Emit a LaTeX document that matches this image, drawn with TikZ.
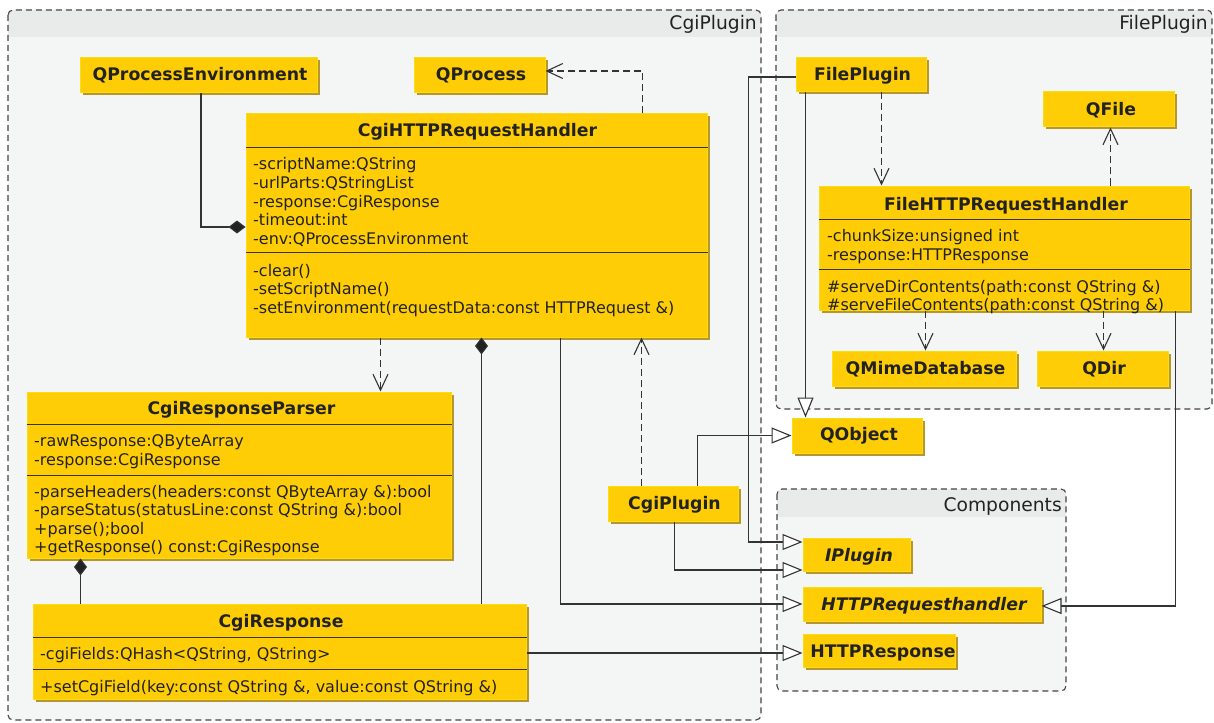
\documentclass[tikz,border=0pt]{standalone}
\usepackage{fontspec}
\setmainfont{DejaVu Sans}
\usetikzlibrary{arrows.meta,shadows}
\definecolor{clsfill}{HTML}{FECD06}
\definecolor{clsborder}{HTML}{F6DE10}
\definecolor{clsshadow}{HTML}{B8952E}
\definecolor{sepc}{HTML}{3A3428}
\definecolor{txt}{HTML}{222222}
\definecolor{pkgbody}{HTML}{F4F6F6}
\definecolor{pkghead}{HTML}{E9EBEB}
\definecolor{pkgline}{HTML}{444444}
\definecolor{linec}{HTML}{333333}
\begin{document}
\begin{tikzpicture}[x=1pt,y=-1pt,
  cls/.style={draw=clsborder, line width=1pt, fill=clsfill, inner sep=0pt,
    drop shadow={shadow xshift=2.5pt, shadow yshift=-2.5pt, fill=clsshadow, opacity=1}},
  clsname/.style={font=\bfseries\fontsize{17.3}{20}\selectfont, text=txt, inner sep=0pt, anchor=base},
  clsital/.style={font=\bfseries\itshape\fontsize{17.3}{20}\selectfont, text=txt, inner sep=0pt, anchor=base},
  mem/.style={font=\fontsize{16}{18.7}\selectfont, text=txt, inner sep=0pt, anchor=base west},
  pkgt/.style={font=\fontsize{18.7}{22}\selectfont, text=txt, inner sep=0pt, anchor=base east},
  sepline/.style={draw=sepc, line width=1pt},
  conn/.style={draw=linec, line width=1.1pt},
  dep/.style={conn, dash pattern=on 7pt off 4pt, -{Straight Barb[length=16pt,width=15pt,line width=1.1pt]}},
  gen/.style={conn, -{Triangle[length=20pt,width=16pt,fill=white,line width=1.1pt]}},
  comp/.style={conn, -{Diamond[length=17pt,width=13pt,fill=txt]}},
  pkgborder/.style={draw=pkgline, line width=1.1pt, dash pattern=on 6pt off 4pt, rounded corners=5pt}
]
\useasboundingbox (0,0) rectangle (1214,722);
\fill[white] (0,0) rectangle (1214,722);

% ---------- packages ----------
% CgiPlugin
\fill[pkgbody, rounded corners=5pt] (8,10) rectangle (761,720);
\fill[pkghead, rounded corners=5pt] (8,10) rectangle (761,37);
\fill[pkghead] (8,30) rectangle (761,37);
\draw[pkgborder] (8,10) rectangle (761,720);
\node[pkgt] (pkgCgi) at (757,30) {CgiPlugin};
% FilePlugin
\fill[pkgbody, rounded corners=5pt] (776,10) rectangle (1212,409);
\fill[pkghead, rounded corners=5pt] (776,10) rectangle (1212,37);
\fill[pkghead] (776,30) rectangle (1212,37);
\draw[pkgborder] (776,10) rectangle (1212,409);
\node[pkgt] (pkgFile) at (1208,30) {FilePlugin};
% Components
\fill[pkgbody, rounded corners=5pt] (777,489) rectangle (1066,691);
\fill[pkghead, rounded corners=5pt] (777,489) rectangle (1066,517);
\fill[pkghead] (777,510) rectangle (1066,517);
\draw[pkgborder] (777,489) rectangle (1066,691);
\node[pkgt] (pkgComp) at (1062,511) {Components};

% ---------- class boxes ----------
\node[cls, minimum width=237, minimum height=35] (qpe) at (198.5,75.5) {};
\node[cls, minimum width=131, minimum height=35] (qproc) at (479.5,75.5) {};
\node[cls, minimum width=461, minimum height=223] (cgih) at (476.5,225.5) {};
\node[cls, minimum width=424, minimum height=166] (cgirp) at (239,475) {};
\node[cls, minimum width=493, minimum height=95] (cgir) at (279.5,651.5) {};
\node[cls, minimum width=130, minimum height=35] (cgip) at (673,503.5) {};
\node[cls, minimum width=130, minimum height=34] (fp) at (861,74.5) {};
\node[cls, minimum width=131, minimum height=35] (qfile) at (1108.5,109.5) {};
\node[cls, minimum width=370, minimum height=124] (fhh) at (1004,248) {};
\node[cls, minimum width=184, minimum height=35] (qmime) at (924,368.5) {};
\node[cls, minimum width=131, minimum height=35] (qdir) at (1102.5,368.5) {};
\node[cls, minimum width=130, minimum height=35] (qobj) at (857,435.5) {};
\node[cls, minimum width=107, minimum height=33] (iplug) at (856.5,554.5) {};
\node[cls, minimum width=238, minimum height=34] (httph) at (922,604) {};
\node[cls, minimum width=152, minimum height=33] (httpr) at (879,650.5) {};

% separators
\draw[sepline] ([yshift=-34pt]cgih.north west) -- ([yshift=-34pt]cgih.north east);
\draw[sepline] ([yshift=-139pt]cgih.north west) -- ([yshift=-139pt]cgih.north east);
\draw[sepline] ([yshift=-33pt]cgirp.north west) -- ([yshift=-33pt]cgirp.north east);
\draw[sepline] ([yshift=-84pt]cgirp.north west) -- ([yshift=-84pt]cgirp.north east);
\draw[sepline] ([yshift=-34pt]cgir.north west) -- ([yshift=-34pt]cgir.north east);
\draw[sepline] ([yshift=-66pt]cgir.north west) -- ([yshift=-66pt]cgir.north east);
\draw[sepline] ([yshift=-34pt]fhh.north west) -- ([yshift=-34pt]fhh.north east);
\draw[sepline] ([yshift=-84pt]fhh.north west) -- ([yshift=-84pt]fhh.north east);

% ---------- texts ----------
\node[clsname] (qpeT) at (200,80.7) {QProcessEnvironment};
\node[clsname] (qprocT) at (481,80.7) {QProcess};
\node[clsname] (cgihT) at (477.5,137) {CgiHTTPRequestHandler};
\node[mem] (cgihA1) at (253,170) {-scriptName:QString};
\node[mem] (cgihA2) at (253,188.6) {-urlParts:QStringList};
\node[mem] (cgihA3) at (253,207.2) {-response:CgiResponse};
\node[mem] (cgihA4) at (253,225.8) {-timeout:int};
\node[mem] (cgihA5) at (253,244.4) {-env:QProcessEnvironment};
\node[mem] (cgihM1) at (253,276) {-clear()};
\node[mem] (cgihM2) at (253,294.6) {-setScriptName()};
\node[mem] (cgihM3) at (253,313.2) {-setEnvironment(requestData:const HTTPRequest \&)};

\node[clsname] (cgirpT) at (241.5,414) {CgiResponseParser};
\node[mem] (cgirpA1) at (34,446.7) {-rawResponse:QByteArray};
\node[mem] (cgirpA2) at (34,465.3) {-response:CgiResponse};
\node[mem] (cgirpM1) at (34,497) {-parseHeaders(headers:const QByteArray \&):bool};
\node[mem] (cgirpM2) at (34,515.6) {-parseStatus(statusLine:const QString \&):bool};
\node[mem] (cgirpM3) at (34,534.2) {+parse();bool};
\node[mem] (cgirpM4) at (34,552.8) {+getResponse() const:CgiResponse};

\node[clsname] (cgirT) at (281,627) {CgiResponse};
\node[mem] (cgirA1) at (40,659) {-cgiFields:QHash<QString, QString>};
\node[mem] (cgirM1) at (40,692) {+setCgiField(key:const QString \&, value:const QString \&)};

\node[clsname] (cgipT) at (674.5,509) {CgiPlugin};
\node[clsname] (fpT) at (862.5,80.7) {FilePlugin};
\node[clsname] (qfileT) at (1111,116) {QFile};
\node[clsname] (fhhT) at (1006,210) {FileHTTPRequestHandler};
\node[mem] (fhhA1) at (827,241.7) {-chunkSize:unsigned int};
\node[mem] (fhhA2) at (827,260.3) {-response:HTTPResponse};
\node[mem] (fhhM1) at (827,292) {\#serveDirContents(path:const QString \&)};
\node[mem] (fhhM2) at (827,310.6) {\#serveFileContents(path:const QString \&)};
\node[clsname] (qmimeT) at (925.5,374) {QMimeDatabase};
\node[clsname] (qdirT) at (1104,374) {QDir};
\node[clsname] (qobjT) at (859,440) {QObject};
\node[clsital] (iplugT) at (859,561) {IPlugin};
\node[clsital] (httphT) at (924,610) {HTTPRequesthandler};
\node[clsname] (httprT) at (883,657.7) {HTTPResponse};

% ---------- connectors ----------
\draw[comp] ([xshift=2.5pt]qpe.south) |- ([yshift=-1.5pt]cgih.west);
\draw[dep] ([xshift=-65pt]cgih.north east) |- ([yshift=4.5pt]qproc.east);
\draw[dep] ([xshift=135pt]cgih.south west) -- ([xshift=135pt]cgih.south west |- cgirp.north);
\draw[comp] ([xshift=449pt]cgir.north west) -- ([xshift=449pt]cgir.north west |- cgih.south);
\draw[gen] ([xshift=315pt]cgih.south west) |- (httph.west);
\draw[dep] ([xshift=34pt]cgip.north west) -- ([xshift=34pt]cgip.north west |- cgih.south);
\draw[gen] ([xshift=90pt]cgip.north west) |- (qobj.west);
\draw[gen] ([xshift=67pt]cgip.south west) |- ([yshift=-15.5pt]iplug.west);
\draw[gen] ([yshift=-2.5pt]fp.west) -- ++(-47,0) |- ([yshift=12.5pt]iplug.west);
\draw[gen] ([xshift=10pt]fp.south west) -- ([xshift=10pt]fp.south west |- qobj.north);
\draw[gen] ([xshift=-14pt]fhh.south east) |- ([yshift=-2pt]httph.east);
\draw[gen] ([yshift=-1.5pt]cgir.east) -- ([yshift=-1.5pt]cgir.east -| httpr.west);
\draw[comp] ([xshift=48pt]cgir.north west) -- ([xshift=48pt]cgir.north west |- cgirp.south);
\draw[dep] ([xshift=86pt]fp.south west) -- ([xshift=86pt]fp.south west |- fhh.north);
\draw[dep] ([xshift=292pt]fhh.north west) -- ([xshift=292pt]fhh.north west |- qfile.south);
\draw[dep] ([xshift=107pt]fhh.south west) -- ([xshift=107pt]fhh.south west |- qmime.north);
\draw[dep] ([xshift=285pt]fhh.south west) -- ([xshift=285pt]fhh.south west |- qdir.north);
\end{tikzpicture}
\end{document}
